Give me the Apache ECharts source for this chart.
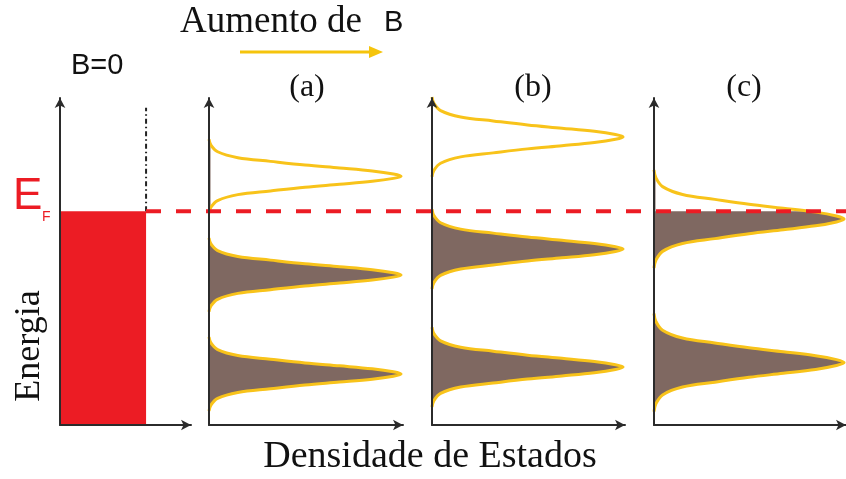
<!DOCTYPE html>
<html lang="pt">
<head>
<meta charset="UTF-8">
<title>Densidade de Estados</title>
<style>
  html, body, #main { width: 100%; height: 100%; margin: 0; padding: 0; background: #fff; }
</style>
<script src="https://cdn.jsdelivr.net/npm/echarts@6/dist/echarts.min.js"></script>
</head>
<body>
<div id="main"></div>
<script>
// shape of one Landau level:
// offset from the level centre (in half-widths) and density (fraction of the peak)
const peakOffset  = [-1, -0.84, -0.66, -0.5, -0.4, -0.3, -0.22, -0.14, -0.06, 0, 0.06, 0.14, 0.22, 0.3, 0.4, 0.5, 0.66, 0.84, 1];
const peakDensity = [0, 0.01, 0.045, 0.15, 0.32, 0.5, 0.68, 0.85, 0.96, 1, 0.96, 0.85, 0.68, 0.5, 0.32, 0.15, 0.045, 0.01, 0];

// energy axis runs 0..100
const fermiEnergy = 65.4;
const freeDensity = 0.657;   // B=0 : constant density of states
const freeMarkTop = 97;      // top of the dash-dot marker

const panelLabels = ['(a)', '(b)', '(c)'];
const levelCenters = [[76.1, 45.9, 15.6], [88.1, 53.8, 17.7], [63.0, 19.1]];
const levelHalfWidth = [11.3, 12.2, 15.0];

const YELLOW = '#f8c31a';
const BROWN = '#7f6861';
const RED = '#ec1c24';
const AXIS = '#2b2b2b';

var chart = echarts.init(document.getElementById('main'));

// grid 0 = B=0, grids 1-3 = (a),(b),(c), grid 4 = overlay for the Fermi line
const grids = [
    { left: 60, width: 131, top: 98, bottom: 54 },
    { left: 209, width: 194, top: 98, bottom: 54 },
    { left: 432, width: 193, top: 98, bottom: 54 },
    { left: 654, width: 193, top: 98, bottom: 54 },
    { left: 146, right: 0, top: 98, bottom: 54 }
];

function axisOf(i, isY) {
    const shown = i < 4;
    return {
        type: 'value', gridIndex: i, min: 0,
        max: isY ? 100 : (i === 0 || i === 4 ? 1 : 1.01),
        show: shown, z: 5,
        axisLine: {
            show: shown, symbol: ['none', 'arrow'], symbolSize: [8, 10],
            lineStyle: { color: AXIS, width: 2 }
        },
        axisTick: { show: false }, axisLabel: { show: false }, splitLine: { show: false }
    };
}

function renderPeak(params, api) {
    const c = api.value(0), h = api.value(1);
    const pts = peakOffset.map((d, i) => api.coord([peakDensity[i], c + d * h]));
    const top = c + h, bottom = c - h;
    const children = [];
    if (bottom < fermiEnergy) {
        children.push({ type: 'polygon', shape: { points: pts, smooth: 0.35 }, style: { fill: BROWN } });
        if (top > fermiEnergy) {
            // only the states below E_F are filled
            const a = api.coord([0, top]);
            const b = api.coord([1.01, fermiEnergy]);
            children.push({
                type: 'rect',
                shape: { x: a[0] + 1.5, y: a[1] - 3, width: b[0] - a[0] + 8, height: b[1] - a[1] + 3 },
                style: { fill: '#fff' }
            });
        }
    }
    children.push({ type: 'polyline', shape: { points: pts, smooth: 0.35 }, style: { stroke: YELLOW, lineWidth: 3, fill: null } });
    return { type: 'group', children: children };
}

const series = [
    {
        type: 'custom', xAxisIndex: 0, yAxisIndex: 0,
        data: [[freeDensity, fermiEnergy]],
        renderItem: function (params, api) {
            const p0 = api.coord([0, 0]);
            const p1 = api.coord([api.value(0), api.value(1)]);
            return { type: 'rect', shape: { x: p0[0], y: p1[1], width: p1[0] - p0[0], height: p0[1] - p1[1] }, style: { fill: RED } };
        }
    },
    {
        type: 'line', xAxisIndex: 0, yAxisIndex: 0, symbol: 'none', silent: true,
        data: [[freeDensity, fermiEnergy], [freeDensity, freeMarkTop]],
        lineStyle: { color: '#222', width: 2, type: [5, 3, 1.5, 3] }
    },
    {
        type: 'line', xAxisIndex: 4, yAxisIndex: 4, symbol: 'none', silent: true, z: 4,
        data: [[0, fermiEnergy], [1, fermiEnergy]],
        lineStyle: { color: RED, width: 4, type: [15, 15] }
    }
];
levelCenters.forEach(function (centers, k) {
    series.push({
        type: 'custom', xAxisIndex: k + 1, yAxisIndex: k + 1, z: 3,
        data: centers.map(c => [c, levelHalfWidth[k]]),
        renderItem: renderPeak
    });
});

const serif = '"Liberation Serif", "DejaVu Serif", serif';
const sans = '"Liberation Sans", Arial, sans-serif';
const middle = { textAlign: 'center', textVerticalAlign: 'middle' };
const graphic = [
    { type: 'text', x: 180, y: 22, style: { text: 'Aumento de', font: '37px ' + serif, fill: '#111', textVerticalAlign: 'middle' } },
    { type: 'text', x: 384, y: 23, style: { text: 'B', font: '29px ' + sans, fill: '#111', textVerticalAlign: 'middle' } },
    { type: 'line', shape: { x1: 240, y1: 52, x2: 372, y2: 52 }, style: { stroke: '#f5c40c', lineWidth: 3 } },
    { type: 'polygon', shape: { points: [[369, 46], [383, 52], [369, 58]] }, style: { fill: '#f5c40c' } },
    { type: 'text', x: 71, y: 66, style: { text: 'B=0', font: '29px ' + sans, fill: '#111', textVerticalAlign: 'middle' } },
    { type: 'text', x: 13, y: 197, style: { text: 'E', font: '44px ' + sans, fill: RED, textVerticalAlign: 'middle' } },
    { type: 'text', x: 42, y: 217, style: { text: 'F', font: '14px ' + sans, fill: RED, textVerticalAlign: 'middle' } },
    { type: 'text', x: 30, y: 346, rotation: Math.PI / 2,
      style: Object.assign({ text: 'Energia', font: '36px ' + serif, fill: '#111' }, middle) },
    { type: 'text', x: 430, y: 457,
      style: Object.assign({ text: 'Densidade de Estados', font: '38px ' + serif, fill: '#111' }, middle) }
];
[307, 533, 744].forEach(function (x, k) {
    graphic.push({ type: 'text', x: x, y: 88,
        style: Object.assign({ text: panelLabels[k], font: '32px ' + serif, fill: '#111' }, middle) });
});

var option = {
    animation: false,
    backgroundColor: '#fff',
    grid: grids,
    xAxis: grids.map((g, i) => axisOf(i, false)),
    yAxis: grids.map((g, i) => axisOf(i, true)),
    series: series,
    graphic: graphic
};

chart.setOption(option);
</script>
</body>
</html>
